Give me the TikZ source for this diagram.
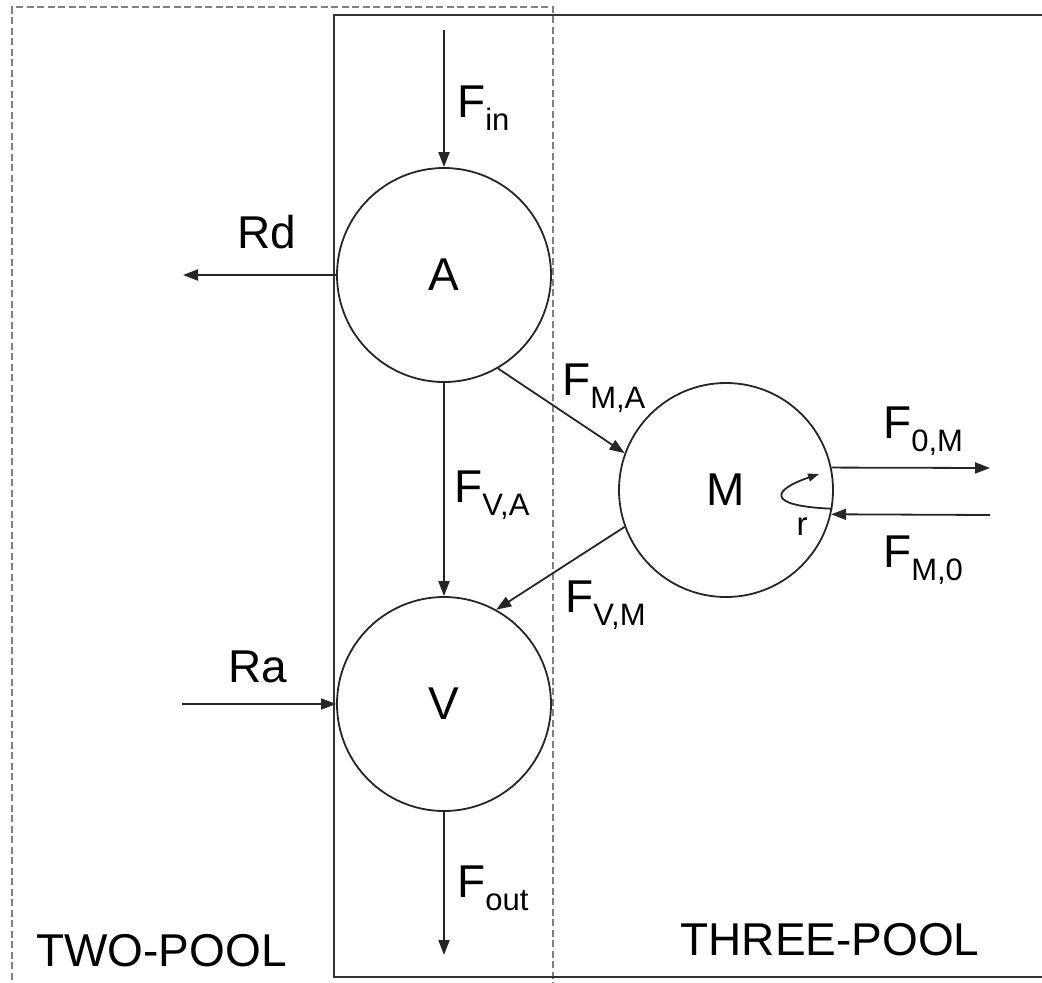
\documentclass[tikz,border=0pt]{standalone}
\usepackage{fontspec}
\setmainfont{Liberation Sans}
\usetikzlibrary{arrows.meta}
\newcommand\flowsub[1]{\raisebox{-13pt}{\fontsize{31}{32}\selectfont #1}}
\begin{document}
\begin{tikzpicture}[x=1pt,y=-1pt,
  pool/.style={circle,draw=black!85,line width=1.8pt,minimum size=214pt,inner sep=0pt,font=\fontsize{46}{50}\selectfont},
  flow/.style={draw=black!85,line width=1.8pt,-{Triangle[length=15pt,width=11pt]}},
  lab/.style={inner sep=0pt,anchor=base west,font=\fontsize{46}{50}\selectfont},
  clab/.style={inner sep=0pt,anchor=base,font=\fontsize{46}{50}\selectfont},
  twobox/.style={draw=black!50,line width=1.3pt,dash pattern=on 7pt off 3.5pt},
  threebox/.style={draw=black!80,line width=2pt}]
\useasboundingbox (0,0) rectangle (1042,983);
% pool frames
\draw[twobox] (12,990) -- (12,7) -- (553,7) -- (553,990);
\draw[threebox] (1050,15) -- (334,15) -- (334,977) -- (1050,977);
% pools
\node[pool] (A) at (444,275) {A};
\node[pool] (V) at (444,704) {V};
\node[pool] (M) at (726,490) {M};
% free ends
\coordinate (fin) at (444,30);
\coordinate (rd) at (183,275);
\coordinate (ra) at (182,704);
\coordinate (fout) at (444,955);
\coordinate (f0m) at (990,468);
\coordinate (fm0) at (990,515);
% flows
\draw[flow] (fin) -- (A.north);
\draw[flow] (A.west) -- (rd);
\draw[flow] (ra) -- (V.west);
\draw[flow] (A.south) -- (V.north);
\draw[flow] (A.-60) -- (M.160);
\draw[flow] (M.200) -- (V.61);
\draw[flow] (V.south) -- (fout);
\draw[flow] (M.12) -- (f0m);
\draw[flow] (fm0) -- (M.-13.5);
\draw[draw=black!85,line width=1.8pt,-{Triangle[length=11pt,width=8pt]}]
  (M.-10.5) .. controls (765,506) and (772,490) .. (819,474);
% labels
\node[lab] (lfin) at (457,117) {F\flowsub{in}};
\node[clab] (lrd) at (267,248) {Rd};
\node[clab] (lra) at (258,682) {Ra};
\node[lab] (lfva) at (454,502) {F\flowsub{V,A}};
\node[lab] (lfma) at (562,395) {F\flowsub{M,A}};
\node[lab] (lfvm) at (565,612) {F\flowsub{V,M}};
\node[lab] (lf0m) at (883,438) {F\flowsub{0,M}};
\node[lab] (lfm0) at (883,567) {F\flowsub{M,0}};
\node[lab] (lfout) at (457,897) {F\flowsub{out}};
\node[inner sep=0pt,anchor=base,font=\fontsize{33}{34}\selectfont] (lr) at (802,535) {r};
\node[lab] (ltwo) at (36,966) {TWO-POOL};
\node[clab] (lthree) at (830,955) {THREE-POOL};
\end{tikzpicture}
\end{document}
